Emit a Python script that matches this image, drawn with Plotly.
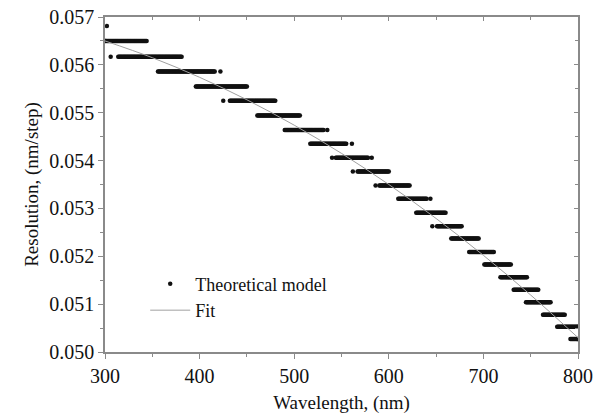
import plotly.graph_objects as go

# Step levels of the theoretical model (resolution, nm/step) and their wavelength spans (nm)
level_values = [0.05650, 0.05617, 0.05586, 0.05555, 0.05525, 0.05494, 0.05464, 0.05435,
                0.05406, 0.05377, 0.05348, 0.05320, 0.05291, 0.05263, 0.05237, 0.05209,
                0.05183, 0.05156, 0.05130, 0.05104, 0.05078, 0.05053, 0.05027]
level_start = [300, 314, 356, 396, 432, 461, 490, 517, 544, 567, 590, 610, 629, 651,
               666, 685, 701, 718, 732, 745, 763, 778, 792]
level_end = [344, 381, 416, 450, 480, 506, 531, 555, 578, 600, 622, 640, 660, 677,
             695, 711, 729, 746, 758, 771, 786, 800, 800]

# Isolated model points
iso_x = [302, 306, 422, 425, 535, 561, 540, 582, 562, 586, 644, 646]
iso_y = [0.05681, 0.05617, 0.05586, 0.05525, 0.05464, 0.05435, 0.05406, 0.05406,
         0.05377, 0.05348, 0.05320, 0.05263]

# Fit curve
fit_x = [300, 350, 400, 450, 500, 550, 600, 650, 700, 750, 800]
fit_y = [0.05650, 0.05615, 0.05574, 0.05527, 0.05474, 0.05415, 0.05350, 0.05279,
         0.05202, 0.05119, 0.05030]

model_x, model_y = [], []
for v, s, e in zip(level_values, level_start, level_end):
    for w in range(s, e + 1):
        model_x.append(w)
        model_y.append(v)
model_x += iso_x
model_y += iso_y

FONT = "Liberation Serif"
AX = "#8a8a8a"

fig = go.Figure()
fig.add_trace(go.Scatter(x=model_x, y=model_y, mode="markers", name="Theoretical model",
                         marker=dict(color="#111111", size=4.5, line=dict(width=0))))
fig.add_trace(go.Scatter(x=fit_x, y=fit_y, mode="lines", name="Fit", line_shape="spline",
                         line=dict(color="#a0a0a0", width=1)))
# dummy trace to activate mirrored overlay axes
fig.add_trace(go.Scatter(x=fit_x, y=fit_y, mode="lines", xaxis="x2", yaxis="y2",
                         showlegend=False, hoverinfo="skip", opacity=0,
                         line=dict(width=0)))

fig.update_layout(
    width=596, height=418,
    margin=dict(l=105, r=18, t=17, b=66, autoexpand=False),
    paper_bgcolor="white", plot_bgcolor="white",
    font=dict(family=FONT, color="#111111", size=20),
    showlegend=True,
    legend=dict(x=0.085, y=0.258, xanchor="left", yanchor="top",
                bgcolor="rgba(0,0,0,0)", font=dict(size=18, family=FONT),
                tracegroupgap=0, itemwidth=40),
    xaxis=dict(range=[300, 800], dtick=100, tick0=300, showgrid=False, zeroline=False,
               showline=True, linecolor=AX, linewidth=1.5, mirror=True,
               ticks="outside", ticklen=5, tickwidth=1.2, tickcolor=AX,
               minor=dict(dtick=50, ticks="outside", ticklen=3, tickcolor=AX),
               tickfont=dict(size=20, family=FONT), automargin=False,
               title=dict(text="Wavelength, (nm)", font=dict(size=19, family=FONT), standoff=10)),
    yaxis=dict(range=[0.050, 0.057], dtick=0.001, tick0=0.050, tickformat=".3f",
               showgrid=False, zeroline=False,
               showline=True, linecolor=AX, linewidth=1.5, mirror=True,
               ticks="outside", ticklen=5, tickwidth=1.2, tickcolor=AX,
               minor=dict(dtick=0.0005, ticks="outside", ticklen=3, tickcolor=AX),
               tickfont=dict(size=20, family=FONT), automargin=False,
               title=dict(text="Resolution, (nm/step)", font=dict(size=19, family=FONT), standoff=6)),
    xaxis2=dict(overlaying="x", side="top", anchor="y", range=[300, 800], dtick=100, tick0=300,
                showgrid=False, zeroline=False, showline=False, showticklabels=False,
                ticks="inside", ticklen=4, tickwidth=1.2, tickcolor=AX, automargin=False,
                minor=dict(dtick=50, ticks="inside", ticklen=3, tickcolor=AX)),
    yaxis2=dict(overlaying="y", side="right", anchor="x", range=[0.050, 0.057], dtick=0.001,
                tick0=0.050, showgrid=False, zeroline=False, showline=False,
                showticklabels=False, automargin=False,
                ticks="inside", ticklen=4, tickwidth=1.2, tickcolor=AX,
                minor=dict(dtick=0.0005, ticks="inside", ticklen=3, tickcolor=AX)),
)

fig.write_html("out.html")
